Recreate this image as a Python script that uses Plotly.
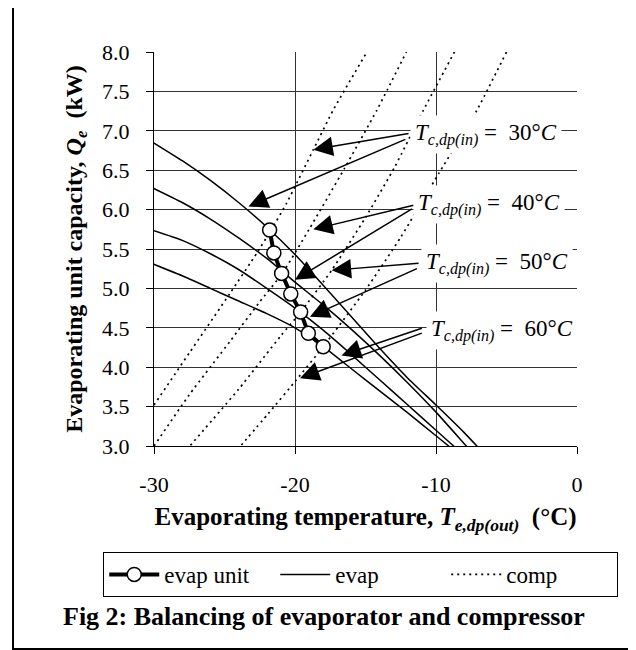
import plotly.graph_objects as go

# ---------------- data ----------------
evap_x = [-30.5, -28, -26, -24, -22, -20, -18, -16, -14, -12, -10, -8, -7]
evap_30 = [6.90, 6.62, 6.37, 6.09, 5.78, 5.43, 5.04, 4.64, 4.24, 3.86, 3.52, 3.17, 2.98]
evap_40 = [6.31, 6.09, 5.88, 5.64, 5.38, 5.08, 4.79, 4.48, 4.15, 3.80, 3.43, 3.03, 2.83]
evap_50 = [5.76, 5.61, 5.44, 5.24, 5.00, 4.75, 4.47, 4.16, 3.84, 3.52, 3.20, 2.88, 2.72]
evap_60 = [5.34, 5.16, 5.00, 4.84, 4.68, 4.50, 4.26, 3.98, 3.70, 3.42, 3.13, 2.84, 2.70]

comp_30_x = [-30.0, -27.5, -24.6, -22.7, -21.7, -20.6, -18.7, -17.3, -14.9]
comp_30_y = [3.52, 4.18, 4.94, 5.45, 5.74, 6.08, 6.76, 7.26, 8.00]
comp_40_x = [-30.0, -27.5, -24.6, -22.5, -20.9, -19.0, -16.5, -14.2, -12.1]
comp_40_y = [3.00, 3.65, 4.33, 4.83, 5.19, 5.75, 6.52, 7.26, 8.00]
comp_50_x = [-27.7, -24.0, -21.0, -19.6, -17.4, -15.0, -12.9, -10.9, -8.6]
comp_50_y = [2.95, 3.72, 4.40, 4.70, 5.23, 5.90, 6.55, 7.26, 8.03]
comp_60_x = [-24.1, -21.9, -19.9, -18.0, -15.0, -12.5, -9.8, -7.1, -5.0]
comp_60_y = [2.95, 3.41, 3.84, 4.26, 4.98, 5.65, 6.46, 7.26, 8.00]

unit_x = [-21.8, -21.5, -20.95, -20.3, -19.6, -19.05, -18.0]
unit_y = [5.74, 5.45, 5.19, 4.93, 4.70, 4.43, 4.26]

label_temps = ["30", "40", "50", "60"]
label_x = [-6.45, -6.25, -5.65, -5.35]
label_y = [6.95, 6.07, 5.32, 4.47]
# arrows: (head_x, head_y, tail_x, tail_y)
arrows = [
    (-18.7, 6.76, -11.84, 6.97), (-23.3, 6.04, -12.07, 6.90),
    (-18.7, 5.75, -11.48, 6.06), (-20.0, 5.11, -11.60, 6.02),
    (-17.4, 5.23, -11.13, 5.32), (-18.94, 4.64, -11.25, 5.26),
    (-16.7, 4.15, -10.90, 4.50), (-19.65, 3.86, -10.90, 4.44),
]

x_ticks = [-30, -20, -10, 0]
y_ticks = [3.0, 3.5, 4.0, 4.5, 5.0, 5.5, 6.0, 6.5, 7.0, 7.5, 8.0]

FONT = "Liberation Serif, Times New Roman, serif"
NB = "\u00a0"

fig = go.Figure()

evap_sets = [evap_30, evap_40, evap_50, evap_60]
for i, ys in enumerate(evap_sets):
    fig.add_trace(go.Scatter(
        x=evap_x, y=ys, mode="lines", name="evap",
        line=dict(color="black", width=1.5, shape="spline", smoothing=0.5),
        showlegend=(i == 0), legendgroup="evap", legendrank=2))

comp_sets = [(comp_30_x, comp_30_y), (comp_40_x, comp_40_y),
             (comp_50_x, comp_50_y), (comp_60_x, comp_60_y)]
for i, (xs, ys) in enumerate(comp_sets):
    fig.add_trace(go.Scatter(
        x=xs, y=ys, mode="lines", name="comp",
        line=dict(color="black", width=1.7, dash="2px,4px", shape="spline", smoothing=0.5),
        showlegend=(i == 0), legendgroup="comp", legendrank=3))

fig.add_trace(go.Scatter(
    x=unit_x, y=unit_y, mode="lines+markers", name="evap unit",
    line=dict(color="black", width=4),
    marker=dict(symbol="circle", size=14, color="white", line=dict(color="black", width=1.5)),
    legendrank=1))

annotations = []
for hx, hy, tx, ty in arrows:
    annotations.append(dict(
        x=hx, y=hy, ax=tx, ay=ty, xref="x", yref="y", axref="x", ayref="y",
        text="", showarrow=True, arrowhead=2, arrowsize=2.6, arrowwidth=1.5,
        arrowcolor="black"))
for t, lx, ly in zip(label_temps, label_x, label_y):
    annotations.append(dict(
        x=lx, y=ly, xref="x", yref="y", showarrow=False,
        text="<i>T</i><sub><i>c,dp(in)</i></sub>" + NB + "=" + NB + NB + t + "°<i>C</i>",
        font=dict(family=FONT, size=23, color="black"),
        bgcolor="white", borderpad=4, xanchor="center", yanchor="middle"))
annotations.append(dict(
    x=0.402, y=-0.434, xref="paper", yref="paper", showarrow=False,
    text="<b>Fig 2: Balancing of evaporator and compressor</b>",
    font=dict(family=FONT, size=26, color="black"),
    xanchor="center", yanchor="middle"))

fig.update_layout(
    width=636, height=650,
    margin=dict(l=146, r=67, t=44, b=212),
    paper_bgcolor="white", plot_bgcolor="white",
    font=dict(family=FONT, size=22, color="black"),
    showlegend=True,
    legend=dict(orientation="h", x=-0.12, y=-0.269, xanchor="left", yanchor="top",
                bordercolor="black", borderwidth=1, bgcolor="white",
                font=dict(family=FONT, size=23, color="black"),
                itemwidth=50, entrywidth=106, traceorder="normal"),
    annotations=annotations,
    shapes=[dict(type="rect", xref="paper", yref="paper",
                 x0=-0.3333, x1=1.149, y0=-0.5152, y1=1.1244,
                 line=dict(color="black", width=2), fillcolor="rgba(0,0,0,0)",
                 layer="below")],
)

fig.update_xaxes(
    range=[-30, 0], tickvals=x_ticks, ticktext=[str(v) for v in x_ticks],
    showgrid=True, gridcolor="#333", gridwidth=1,
    showline=True, linecolor="black", linewidth=1, zeroline=False,
    ticks="outside", ticklen=7, tickcolor="black", ticklabelstandoff=12,
    tickfont=dict(family=FONT, size=22),
    title=dict(text="<b>Evaporating temperature, <i>T</i><sub><i>e,dp(out)</i></sub>  (°C)</b>",
               font=dict(family=FONT, size=25), standoff=11))
fig.update_yaxes(
    range=[3, 8], tickvals=y_ticks, ticktext=[f"{v:.1f}" for v in y_ticks],
    showgrid=True, gridcolor="#333", gridwidth=1,
    showline=True, linecolor="black", linewidth=1, zeroline=False,
    ticks="outside", ticklen=7, tickcolor="black", ticklabelstandoff=12,
    tickfont=dict(family=FONT, size=22),
    title=dict(text="<b>Evaporating unit capacity, <i>Q</i><sub><i>e</i></sub>  (kW)</b>",
               font=dict(family=FONT, size=24), standoff=12))

fig.write_html("out.html")
